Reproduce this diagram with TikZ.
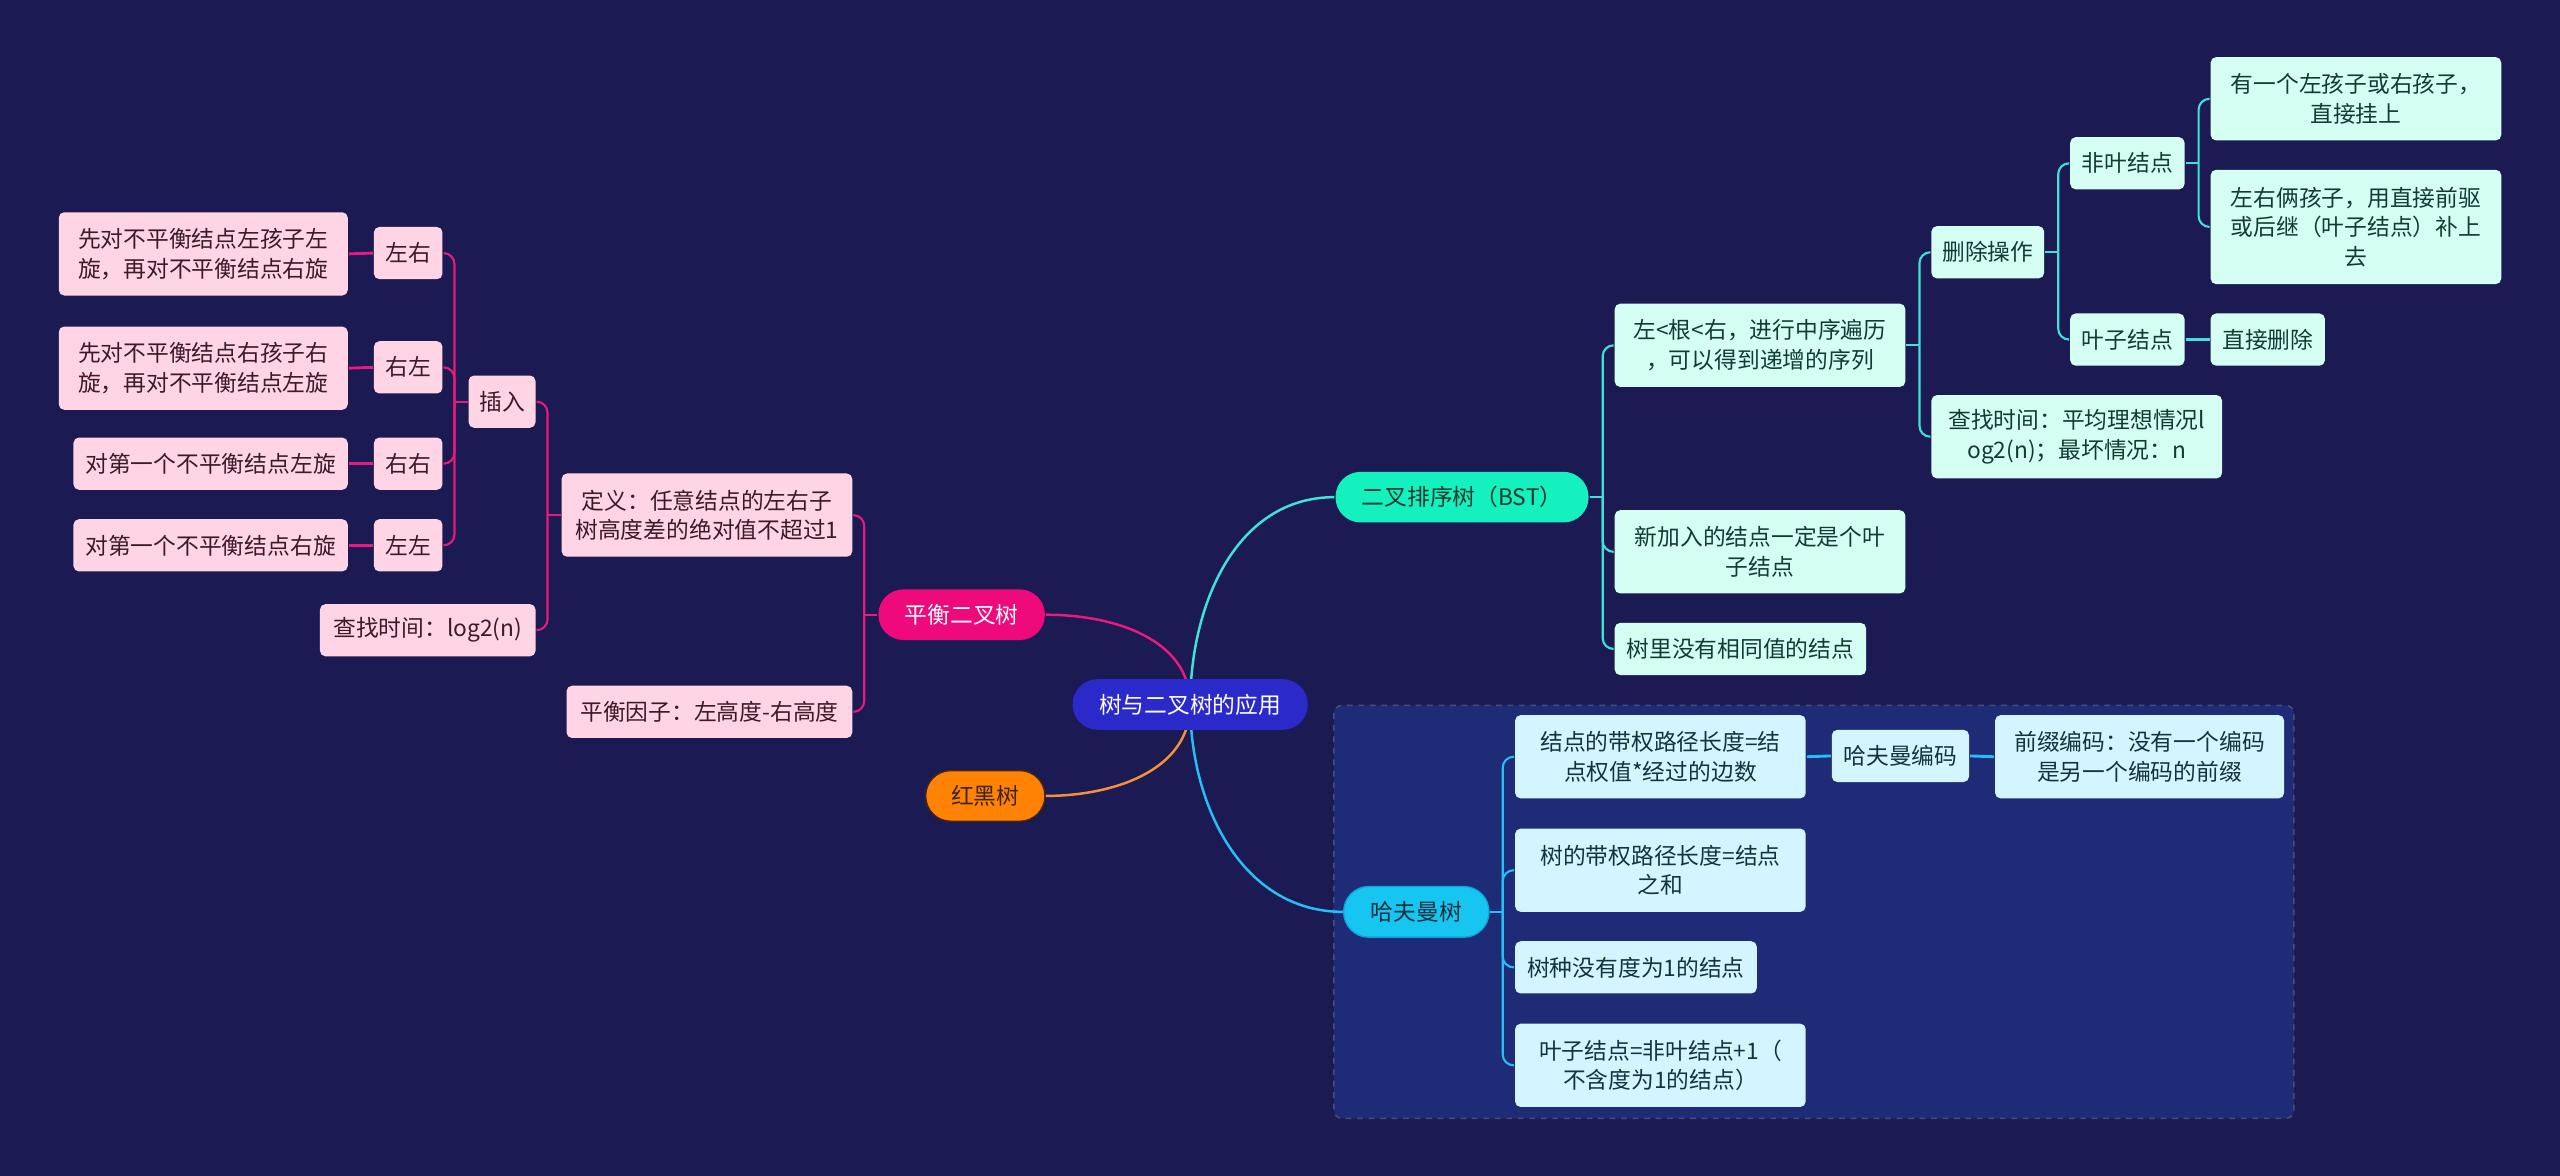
\documentclass[tikz,border=0pt]{standalone}
\usepackage{fontspec}
\setmainfont{Noto Sans CJK SC}
\usetikzlibrary{backgrounds}
\definecolor{night}{HTML}{1B1A53}
\definecolor{nightframe}{HTML}{1E2B77}
\definecolor{frameedge}{HTML}{4A4C78}
\definecolor{royal}{HTML}{2A2ACB}
\definecolor{rose}{HTML}{EE0A7B}
\definecolor{amberpill}{HTML}{FF8205}
\definecolor{amberedge}{HTML}{4A2810}
\definecolor{amberink}{HTML}{3A2410}
\definecolor{aquapill}{HTML}{14F0BE}
\definecolor{aquaink}{HTML}{103A30}
\definecolor{skypill}{HTML}{17C6F0}
\definecolor{skyedge}{HTML}{0CA6D6}
\definecolor{skyink}{HTML}{0F3040}
\definecolor{blush}{HTML}{FFD5E6}
\definecolor{blushink}{HTML}{3B1A2A}
\definecolor{mint}{HTML}{D6FFF4}
\definecolor{mintink}{HTML}{0F3D33}
\definecolor{ice}{HTML}{D3F5FF}
\definecolor{iceink}{HTML}{123440}
\definecolor{roseline}{HTML}{E8197F}
\definecolor{aqualine}{HTML}{40E2D8}
\definecolor{skyline}{HTML}{26BEF5}
\definecolor{amberline}{HTML}{F5903A}

\begin{document}
\begin{tikzpicture}[
    x=0.03cm, y=-0.03cm, line width=1.1pt,
    txt/.style={font=\fontsize{11.9}{15.5}\selectfont},
    pill/.style={txt, rectangle, rounded corners=0.46cm, minimum height=0.93cm, inner sep=0pt},
    card/.style={txt, rectangle, rounded corners=0.1cm, inner sep=0pt, align=center},
    one/.style={minimum height=0.96cm},
    two/.style={minimum height=1.53cm},
    three/.style={minimum height=2.1cm},
    avlcard/.style={card, fill=blush, text=blushink},
    bstcard/.style={card, fill=mint, text=mintink},
    huffcard/.style={card, fill=ice, text=iceink},
    trunk/.style={line width=1.3pt},
    avlwire/.style={draw=roseline, rounded corners=0.2cm},
    bstwire/.style={draw=aqualine, rounded corners=0.2cm},
    huffwire/.style={draw=skyline, rounded corners=0.2cm},
    link/.style={line width=1.5pt}]
  % fixed canvas, same proportions as the map
  \path[use as bounding box] (0,0) rectangle (1568,720);
  \begin{scope}[on background layer]
    \fill[night] (0,0) rectangle (1568,720);
    % Huffman group frame
    \draw[fill=nightframe, draw=frameedge, dashed, line width=0.8pt, rounded corners=0.15cm]
      (817,432) rectangle (1405,685);
  \end{scope}

  % ================= centre and main branches =================
  \node[pill, fill=royal, text=white, minimum width=4.32cm] (root) at (729,431.5) {树与二叉树的应用};
  \node[pill, fill=rose, text=white, minimum width=3.06cm] (avl) at (589,376.5) {平衡二叉树};
  \node[pill, fill=amberpill, draw=amberedge, line width=0.7pt, text=amberink, minimum width=2.19cm] (rbt) at (603.5,487.5) {红黑树};
  \node[pill, fill=aquapill, text=aquaink, minimum width=4.65cm] (bst) at (895.5,304.5) {二叉排序树（BST）};
  \node[pill, fill=skypill, draw=skyedge, line width=0.7pt, text=skyink, minimum width=2.67cm] (huff) at (867.5,558.5) {哈夫曼树};

  % ================= balanced tree (left) =================
  \node[avlcard, two, minimum width=5.31cm] (lrtext) at (124.5,155.5) {先对不平衡结点左孩子左\\旋，再对不平衡结点右旋};
  \node[avlcard, one, minimum width=1.26cm] (lr) at (250,155) {左右};
  \node[avlcard, two, minimum width=5.31cm] (rltext) at (124.5,225.5) {先对不平衡结点右孩子右\\旋，再对不平衡结点左旋};
  \node[avlcard, one, minimum width=1.26cm] (rl) at (250,225) {右左};
  \node[avlcard, one, minimum width=5.04cm] (rrtext) at (129,284) {对第一个不平衡结点左旋};
  \node[avlcard, one, minimum width=1.26cm] (rr) at (250,284) {右右};
  \node[avlcard, one, minimum width=5.04cm] (lltext) at (129,334) {对第一个不平衡结点右旋};
  \node[avlcard, one, minimum width=1.26cm] (ll) at (250,334) {左左};
  \node[avlcard, one, minimum width=1.23cm] (ins) at (307.5,246) {插入};
  \node[avlcard, one, minimum width=3.96cm] (avlfind) at (262,386) {查找时间：log2(n)};
  \node[avlcard, two, minimum width=5.34cm] (def) at (433,315.5) {定义：任意结点的左右子\\树高度差的绝对值不超过1};
  \node[avlcard, one, minimum width=5.25cm] (bf) at (434.5,436) {平衡因子：左高度-右高度};

  % ================= binary search tree (top right) =================
  \node[bstcard, two, minimum width=5.34cm] (order) at (1078,211.5) {左<根<右，进行中序遍历\\，可以得到递增的序列};
  \node[bstcard, one, minimum width=2.07cm] (del) at (1217.5,154.5) {删除操作};
  \node[bstcard, one, minimum width=2.1cm] (inner) at (1303,100) {非叶结点};
  \node[bstcard, two, minimum width=5.34cm] (onekid) at (1443,60.5) {有一个左孩子或右孩子，\\直接挂上};
  \node[bstcard, three, minimum width=5.34cm] (twokid) at (1443,139) {左右俩孩子，用直接前驱\\或后继（叶子结点）补上\\去};
  \node[bstcard, one, minimum width=2.1cm] (leaf) at (1303,208) {叶子结点};
  \node[bstcard, one, minimum width=2.1cm] (drop) at (1389,208) {直接删除};
  \node[bstcard, two, minimum width=5.34cm] (bstfind) at (1272,267.5) {查找时间：平均理想情况l\\og2(n)；最坏情况：n};
  \node[bstcard, two, minimum width=5.34cm] (newleaf) at (1078,338) {新加入的结点一定是个叶\\子结点};
  \node[bstcard, one, minimum width=4.62cm] (unique) at (1066,397.5) {树里没有相同值的结点};

  % ================= Huffman tree (bottom right) =================
  \node[huffcard, two, minimum width=5.34cm] (wpl) at (1017,463.5) {结点的带权路径长度=结\\点权值*经过的边数};
  \node[huffcard, one, minimum width=2.52cm] (code) at (1164,463) {哈夫曼编码};
  \node[huffcard, two, minimum width=5.31cm] (prefix) at (1310.5,463.5) {前缀编码：没有一个编码\\是另一个编码的前缀};
  \node[huffcard, two, minimum width=5.34cm] (treewpl) at (1017,533) {树的带权路径长度=结点\\之和};
  \node[huffcard, one, minimum width=4.44cm] (nodeg) at (1002,592.5) {树种没有度为1的结点};
  \node[huffcard, two, minimum width=5.34cm] (count) at (1017,652.5) {叶子结点=非叶结点+1（\\不含度为1的结点）};

  % ================= connectors =================
  \begin{scope}[on background layer]
    \draw[roseline, trunk] (avl.east) to[out=0, in=90] (root.center);
    \draw[amberline, trunk] (rbt.east) to[out=0, in=-90] (root.center);
    \draw[aqualine, trunk] (root.center) to[out=90, in=180] (bst.west);
    \draw[skyline, trunk] (root.center) to[out=-90, in=180] (huff.west);
  \end{scope}

  % balanced tree brackets
  \draw[avlwire] (avl.west) -- ++(-8,0);
  \foreach \c in {def,bf}
    \draw[avlwire] (avl.west) ++(-8,0) |- (\c.east);
  \draw[avlwire] (def.west) -- ++(-8,0);
  \foreach \c in {ins,avlfind}
    \draw[avlwire] (def.west) ++(-8,0) |- (\c.east);
  \draw[avlwire] (ins.west) -- ++(-8,0);
  \foreach \c in {lr,rl,rr,ll}
    \draw[avlwire] (ins.west) ++(-8,0) |- (\c.east);
  \draw[avlwire, link] (lr.west) -- (lrtext.east);
  \draw[avlwire, link] (rl.west) -- (rltext.east);
  \draw[avlwire, link] (rr.west) -- (rrtext.east);
  \draw[avlwire, link] (ll.west) -- (lltext.east);

  % search tree brackets
  \draw[bstwire] (bst.east) -- ++(8,0);
  \foreach \c in {order,newleaf,unique}
    \draw[bstwire] (bst.east) ++(8,0) |- (\c.west);
  \draw[bstwire] (order.east) -- ++(8,0);
  \foreach \c in {del,bstfind}
    \draw[bstwire] (order.east) ++(8,0) |- (\c.west);
  \draw[bstwire] (del.east) -- ++(8,0);
  \foreach \c in {inner,leaf}
    \draw[bstwire] (del.east) ++(8,0) |- (\c.west);
  \draw[bstwire] (inner.east) -- ++(8,0);
  \foreach \c in {onekid,twokid}
    \draw[bstwire] (inner.east) ++(8,0) |- (\c.west);
  \draw[bstwire, link] (leaf.east) -- (drop.west);

  % Huffman brackets
  \draw[huffwire] (huff.east) -- ++(8,0);
  \foreach \c in {wpl,treewpl,nodeg,count}
    \draw[huffwire] (huff.east) ++(8,0) |- (\c.west);
  \draw[huffwire, link] (wpl.east) -- (code.west);
  \draw[huffwire, link] (code.east) -- (prefix.west);
\end{tikzpicture}
\end{document}
